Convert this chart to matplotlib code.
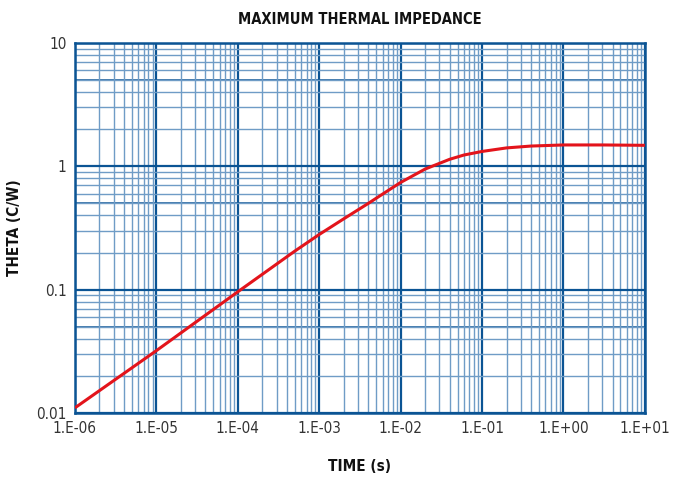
import matplotlib
matplotlib.use('Agg')
import matplotlib.pyplot as plt
from matplotlib.ticker import LogLocator, FixedLocator, FixedFormatter, NullFormatter

# data
time_s = [1e-6, 1e-5, 1e-4, 5e-4, 1e-3, 2e-3, 4e-3, 6e-3, 1e-2, 2e-2,
          4e-2, 6e-2, 1e-1, 2e-1, 4e-1, 1e0, 3e0, 1e1]
theta = [0.011, 0.032, 0.096, 0.205, 0.28, 0.375, 0.50, 0.595, 0.74, 0.95,
         1.14, 1.235, 1.32, 1.41, 1.46, 1.49, 1.49, 1.48]

x_ticks = [1e-6, 1e-5, 1e-4, 1e-3, 1e-2, 1e-1, 1e0, 1e1]
x_tick_labels = ['1.E-06', '1.E-05', '1.E-04', '1.E-03', '1.E-02', '1.E-01', '1.E+00', '1.E+01']
y_ticks = [0.01, 0.1, 1, 10]
y_tick_labels = ['0.01', '0.1', '1', '10']

# style
major_color = '#0b5494'
minor_color = '#6f9cc6'
curve_color = '#e3141b'
text_color = '#111111'

plt.rcParams['font.family'] = ['DejaVu Sans']
plt.rcParams['font.stretch'] = 'condensed'

fig = plt.figure(figsize=(6.81, 4.83), dpi=100)
ax = fig.add_axes([0.110, 0.145, 0.837, 0.766])

ax.plot(time_s, theta, color=curve_color, linewidth=2.2, zorder=5,
        solid_joinstyle='round', solid_capstyle='butt')

ax.set_xscale('log')
ax.set_yscale('log')
ax.set_xlim(1e-6, 1e1)
ax.set_ylim(0.01, 10)

ax.xaxis.set_major_locator(FixedLocator(x_ticks))
ax.xaxis.set_major_formatter(FixedFormatter(x_tick_labels))
ax.yaxis.set_major_locator(FixedLocator(y_ticks))
ax.yaxis.set_major_formatter(FixedFormatter(y_tick_labels))
ax.xaxis.set_minor_locator(LogLocator(base=10, subs=range(2, 10), numticks=20))
ax.yaxis.set_minor_locator(LogLocator(base=10, subs=range(2, 10), numticks=20))
ax.xaxis.set_minor_formatter(NullFormatter())
ax.yaxis.set_minor_formatter(NullFormatter())

ax.grid(which='major', color=major_color, linewidth=1.6)
ax.grid(which='minor', color=minor_color, linewidth=1.0)
# the 5s are drawn a bit heavier on the y axis
for dec in [0.01, 0.1, 1]:
    ax.axhline(5 * dec, color=major_color, linewidth=1.1, zorder=1)

for spine in ax.spines.values():
    spine.set_color(major_color)
    spine.set_linewidth(1.8)

ax.tick_params(which='both', length=0, labelsize=11, labelcolor='#333333', pad=6)

ax.set_title('MAXIMUM THERMAL IMPEDANCE', fontsize=10.5, fontweight='bold', pad=14, color=text_color)
ax.set_xlabel('TIME (s)', fontsize=11, fontweight='bold', labelpad=16, color=text_color)
ax.set_ylabel('THETA (C/W)', fontsize=11, fontweight='bold', color=text_color)
ax.yaxis.set_label_coords(-0.093, 0.5)

fig.savefig('out.png', dpi=100)
